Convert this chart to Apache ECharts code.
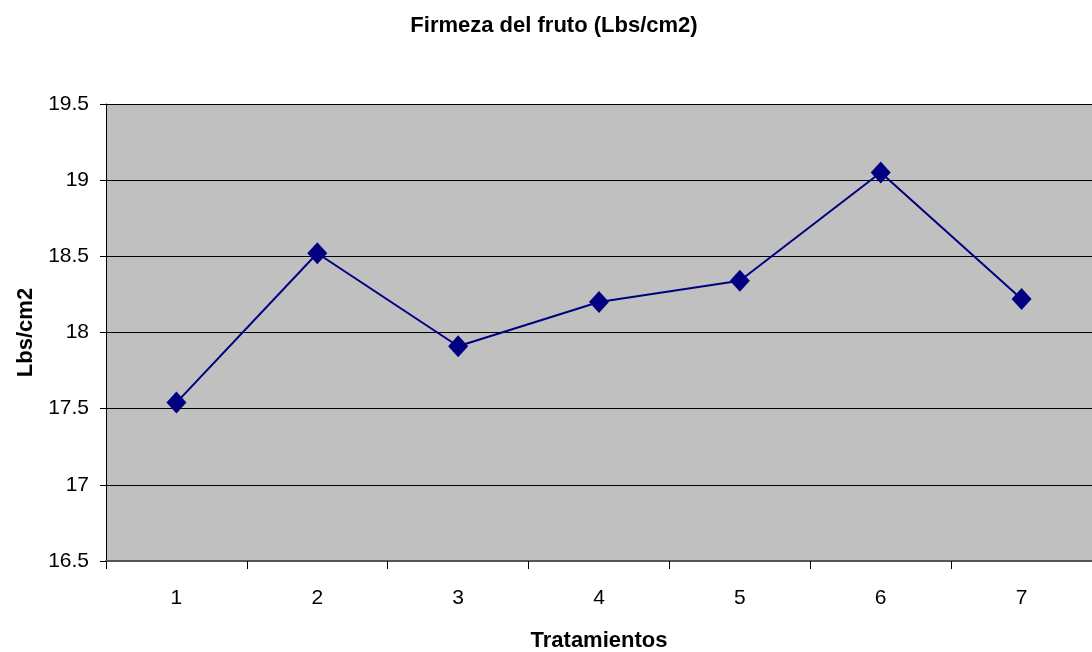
<!DOCTYPE html>
<html>
<head>
<meta charset="utf-8">
<script src="https://cdn.jsdelivr.net/npm/echarts@6/dist/echarts.min.js"></script>
<style>
  html, body { margin: 0; padding: 0; background: #fff; }
  #chart { width: 1092px; height: 652px; }
</style>
</head>
<body>
<div id="chart"></div>
<script>
// Firmeza del fruto por tratamiento
var tratamientos = ['1', '2', '3', '4', '5', '6', '7'];
var firmeza = [17.54, 18.52, 17.91, 18.20, 18.34, 19.05, 18.22];
var yTicks = { min: 16.5, max: 19.5, interval: 0.5 };

var chart = echarts.init(document.getElementById('chart'));
var font = 'Liberation Sans, Arial, sans-serif';

var option = {
  backgroundColor: '#ffffff',
  animation: false,
  title: {
    text: 'Firmeza del fruto (Lbs/cm2)',
    left: 549,
    textAlign: 'center',
    top: 10,
    textStyle: { fontFamily: font, fontSize: 22, fontWeight: 'bold', color: '#000' }
  },
  grid: {
    left: 106,
    top: 104,
    right: 0,
    bottom: 91,
    outerBoundsMode: 'none',
    show: true,
    backgroundColor: '#c0c0c0',
    borderWidth: 0
  },
  xAxis: {
    type: 'category',
    data: tratamientos,
    boundaryGap: true,
    name: 'Tratamientos',
    nameLocation: 'middle',
    nameGap: 69,
    nameTextStyle: { fontFamily: font, fontSize: 22, fontWeight: 'bold', color: '#000' },
    axisLine: { lineStyle: { color: '#555', width: 2 } },
    axisTick: { show: true, length: 8, lineStyle: { color: '#000' } },
    axisLabel: { fontFamily: font, fontSize: 21, color: '#000', margin: 27 }
  },
  yAxis: {
    type: 'value',
    min: yTicks.min,
    max: yTicks.max,
    interval: yTicks.interval,
    name: 'Lbs/cm2',
    nameLocation: 'middle',
    nameGap: 69,
    nameTextStyle: { fontFamily: font, fontSize: 22, fontWeight: 'bold', color: '#000' },
    axisLine: { show: true, lineStyle: { color: '#000', width: 1 } },
    axisTick: { show: true, length: 6, lineStyle: { color: '#000' } },
    axisLabel: { fontFamily: font, fontSize: 21, color: '#000', margin: 17 },
    splitLine: { show: true, lineStyle: { color: '#000', width: 1 } }
  },
  series: [{
    type: 'line',
    data: firmeza,
    color: '#000080',
    lineStyle: { color: '#000080', width: 2 },
    symbol: 'diamond',
    symbolSize: [20, 22],
    itemStyle: { color: '#000080' }
  }]
};
chart.setOption(option);
</script>
</body>
</html>
